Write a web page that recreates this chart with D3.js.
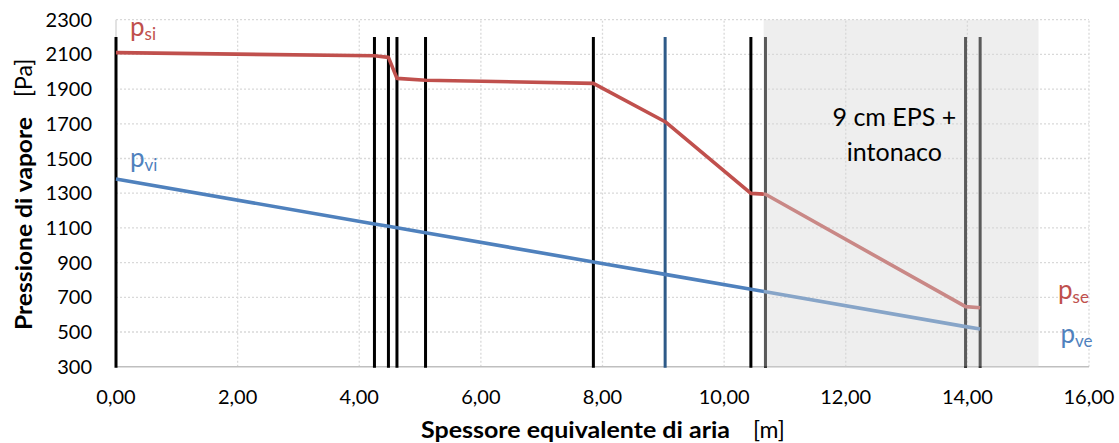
<!DOCTYPE html>
<html>
<head>
<meta charset="utf-8">
<script src="https://cdn.jsdelivr.net/npm/d3@7"></script>
<style>
  html, body { margin: 0; padding: 0; background: #fff; }
  svg { display: block; font-family: Lato, "Open Sans", sans-serif; }
</style>
</head>
<body>
<svg id="chart" width="1119" height="443"></svg>
<script>
// Layer interfaces along the equivalent air thickness sd [m]
const layerBounds = [0, 4.25, 4.48, 4.62, 5.09, 7.85, 9.03, 10.44, 10.68, 13.97, 14.21];
// Saturation vapour pressure at each interface [Pa]
const pSat = [2110, 2092, 2083, 1962, 1951, 1933, 1712, 1299, 1294, 646, 640];
// Actual vapour pressure at each interface [Pa]
const pVap = [1382, 1123, 1109, 1101, 1072, 904, 832, 746, 732, 531, 517];
// Axis ticks
const xTicks = [0, 2, 4, 6, 8, 10, 12, 14, 16];
const yTicks = [300, 500, 700, 900, 1100, 1300, 1500, 1700, 1900, 2100, 2300];
// Insulation band (EPS + plaster) extent on the x axis
const bandRange = [10.65, 15.17];
const bandLabel = ["9 cm EPS +", "intonaco"];
// Top of interface markers [Pa]
const markerTop = 2200;

const svg = d3.select("#chart");
const m = { left: 116, right: 1089, top: 19.7, bottom: 366.7 };

const x = d3.scaleLinear().domain([0, 16]).range([m.left, m.right]);
const y = d3.scaleLinear().domain([300, 2300]).range([m.bottom, m.top]);

const fmt = d => d.toFixed(2).replace(".", ",");

// Dotted gridlines
const grid = svg.append("g");
grid.selectAll("line.h").data(yTicks.slice(1)).join("line")
  .attr("x1", x(0)).attr("x2", x(16))
  .attr("y1", d => y(d)).attr("y2", d => y(d))
  .attr("stroke", "#d9d9d9").attr("stroke-width", 1.3).attr("stroke-dasharray", "2,2");
grid.selectAll("line.v").data(xTicks.slice(1)).join("line")
  .attr("x1", d => x(d)).attr("x2", d => x(d))
  .attr("y1", y(300)).attr("y2", y(2300))
  .attr("stroke", "#d9d9d9").attr("stroke-width", 1.3).attr("stroke-dasharray", "2,2");

// Y axis line and x baseline
svg.append("line")
  .attr("x1", x(0)).attr("x2", x(0)).attr("y1", y(2300)).attr("y2", y(300))
  .attr("stroke", "#d9d9d9").attr("stroke-width", 1.5);
svg.append("line")
  .attr("x1", x(0)).attr("x2", x(16)).attr("y1", y(300)).attr("y2", y(300))
  .attr("stroke", "#bfbfbf").attr("stroke-width", 1.5);

// Interface markers
const highlighted = 6;
svg.append("g").selectAll("line").data(layerBounds).join("line")
  .attr("x1", d => x(d)).attr("x2", d => x(d))
  .attr("y1", y(markerTop)).attr("y2", y(300) + 1)
  .attr("stroke", (d, i) => i === highlighted ? "#2e5a88" : "#000")
  .attr("stroke-width", 3);

// Pressure profiles
const pts = arr => layerBounds.map((d, i) => [x(d), y(arr[i])]);
const line = d3.line();
svg.append("path").attr("d", line(pts(pSat)))
  .attr("fill", "none").attr("stroke", "#c0504d").attr("stroke-width", 3.6)
  .attr("stroke-linejoin", "round");
svg.append("path").attr("d", line(pts(pVap)))
  .attr("fill", "none").attr("stroke", "#4f81bd").attr("stroke-width", 3.6)
  .attr("stroke-linejoin", "round");

// Translucent band over the insulation layers
svg.append("rect")
  .attr("x", x(bandRange[0])).attr("width", x(bandRange[1]) - x(bandRange[0]))
  .attr("y", y(2300)).attr("height", y(300) - y(2300))
  .attr("fill", "#d6d6d6").attr("fill-opacity", 0.42);

const bandText = svg.append("text")
  .attr("text-anchor", "middle").attr("font-size", 25).attr("fill", "#000");
bandText.selectAll("tspan").data(bandLabel).join("tspan")
  .attr("x", x(12.8)).attr("y", (d, i) => 126 + i * 34.5).text(d => d);

// Tick labels
svg.append("g").selectAll("text").data(yTicks).join("text")
  .attr("x", 92).attr("y", d => y(d) + 7)
  .attr("text-anchor", "end").attr("font-size", 20).attr("fill", "#000")
  .text(d => d);
svg.append("g").selectAll("text").data(xTicks).join("text")
  .attr("x", d => x(d)).attr("y", 403.5)
  .attr("text-anchor", "middle").attr("font-size", 20).attr("fill", "#000")
  .text(fmt);

// Axis titles
svg.append("text").attr("x", 421).attr("y", 437.5)
  .attr("font-size", 23).attr("font-weight", "bold").attr("fill", "#000")
  .attr("textLength", 309).attr("lengthAdjust", "spacingAndGlyphs")
  .text("Spessore equivalente di aria");
svg.append("text").attr("x", 753).attr("y", 437.5)
  .attr("font-size", 23).attr("fill", "#000").text("[m]");

const yt = svg.append("g").attr("transform", "translate(32,330) rotate(-90)");
yt.append("text").attr("x", 0).attr("y", 0)
  .attr("font-size", 23).attr("font-weight", "bold").attr("fill", "#000")
  .attr("textLength", 213).attr("lengthAdjust", "spacingAndGlyphs")
  .text("Pressione di vapore");
yt.append("text").attr("x", 233).attr("y", 0)
  .attr("font-size", 23).attr("fill", "#000").text("[Pa]");

// Curve labels
const labels = [
  { main: "p", sub: "si", x: 130, y: 35.5, color: "#c0504d" },
  { main: "p", sub: "vi", x: 130, y: 166.7, color: "#4f81bd" },
  { main: "p", sub: "se", x: 1058, y: 299, color: "#c0504d" },
  { main: "p", sub: "ve", x: 1060.5, y: 343.3, color: "#4f81bd" }
];
labels.forEach(l => {
  const t = svg.append("text").attr("x", l.x).attr("y", l.y).attr("fill", l.color).attr("font-size", 26);
  t.append("tspan").text(l.main);
  t.append("tspan").attr("font-size", 17).attr("dy", 4).text(l.sub);
});
</script>
</body>
</html>
